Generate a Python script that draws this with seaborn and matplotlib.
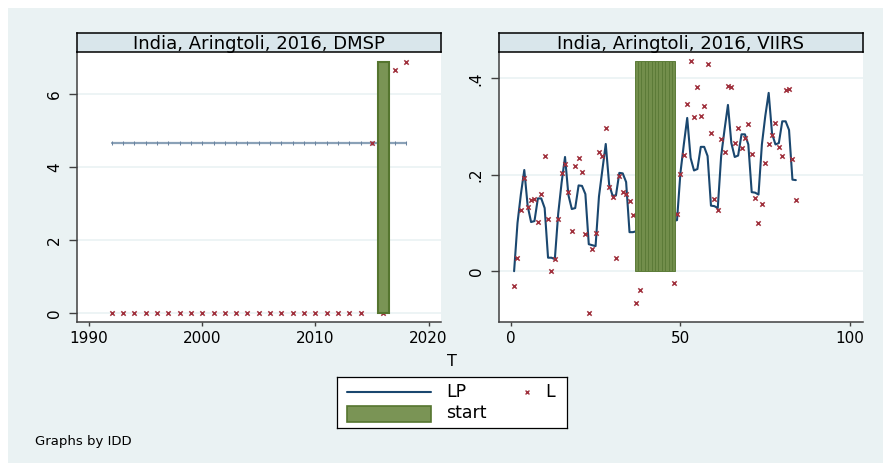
import matplotlib
matplotlib.use("Agg")
import matplotlib.pyplot as plt
import numpy as np
import seaborn as sns
from matplotlib.patches import Rectangle

nan = np.nan

# DMSP panel (annual)
dmsp_year = list(range(1992, 2019))
dmsp_L = [0.0] * 23 + [4.66, 0.0, 6.67, 6.88]
dmsp_LP = [4.66] * 27
dmsp_start_year = [2016]
dmsp_start_height = [6.88]

# VIIRS panel (monthly index T)
viirs_t = list(range(1, 85))
viirs_L = [
    -0.030, 0.027, 0.127, 0.194, 0.133, 0.148, 0.149, 0.102, 0.160, 0.239,
    0.108, 0.001, 0.025, 0.109, 0.203, 0.222, 0.164, 0.084, 0.219, 0.235,
    0.206, 0.077, -0.087, 0.046, 0.079, 0.247, 0.238, 0.297, 0.175, 0.153,
    0.028, 0.197, 0.165, 0.160, 0.145, 0.117, -0.065, -0.038, nan, nan,
    nan, nan, nan, nan, nan, nan, nan, -0.025, 0.118, 0.202,
    0.241, 0.347, 0.437, 0.320, 0.382, 0.323, 0.342, 0.430, 0.287, 0.150,
    0.127, 0.275, 0.248, 0.384, 0.382, 0.266, 0.298, 0.255, 0.277, 0.305,
    0.244, 0.152, 0.099, 0.140, 0.225, 0.263, 0.282, 0.307, 0.258, 0.239,
    0.376, 0.379, 0.233, 0.148,
]
viirs_LP = [
    0.000, 0.100, 0.160, 0.210, 0.135, 0.102, 0.104, 0.151, 0.151, 0.131,
    0.028, 0.028, 0.025, 0.120, 0.184, 0.237, 0.158, 0.129, 0.131, 0.178,
    0.177, 0.160, 0.056, 0.054, 0.052, 0.155, 0.210, 0.264, 0.180, 0.157,
    0.157, 0.204, 0.203, 0.185, 0.081, 0.081, nan, nan, nan, nan,
    nan, nan, nan, nan, nan, nan, nan, nan, 0.106, 0.204,
    0.263, 0.318, 0.235, 0.209, 0.212, 0.258, 0.258, 0.239, 0.136, 0.135,
    0.131, 0.239, 0.294, 0.345, 0.266, 0.237, 0.240, 0.284, 0.284, 0.263,
    0.164, 0.163, 0.159, 0.263, 0.322, 0.370, 0.285, 0.263, 0.266, 0.311,
    0.311, 0.293, 0.190, 0.189,
]
viirs_start_t = list(range(37, 49))
viirs_start_height = [0.436] * 12

dmsp_xticks = [1990, 2000, 2010, 2020]
dmsp_yticks = [0, 2, 4, 6]
dmsp_ylabels = ["0", "2", "4", "6"]
viirs_xticks = [0, 50, 100]
viirs_yticks = [0, 0.2, 0.4]
viirs_ylabels = ["0", ".2", ".4"]

BG = "#EAF2F3"
STRIP = "#D9E6EB"
NAVY = "#1A476F"
MAROON = "#A0313D"
GREEN = "#7A9455"
GREEN_EDGE = "#55752F"
AXIS = "#404040"

sns.set_style("white")
plt.rcParams["font.family"] = ["DejaVu Sans"]
plt.rcParams["text.color"] = "black"
plt.rcParams["xtick.labelcolor"] = "black"
plt.rcParams["ytick.labelcolor"] = "black"

W, H = 883, 463
fig = plt.figure(figsize=(W / 100, H / 100), dpi=100)
fig.patch.set_facecolor("white")
fig.patches.append(Rectangle((8 / W, 0), 1, 1 - 8 / H, transform=fig.transFigure,
                             facecolor=BG, edgecolor="none", zorder=-10))


def px_rect(x0, y0, x1, y1):
    return [x0 / W, 1 - y1 / H, (x1 - x0) / W, (y1 - y0) / H]


def style_axes(ax, xticks, yticks, ylabels, xlim, ylim):
    ax.set_facecolor("white")
    ax.set_xlim(*xlim)
    ax.set_ylim(*ylim)
    ax.set_xticks(xticks)
    ax.set_yticks(yticks)
    ax.set_yticklabels(ylabels)
    ax.grid(axis="y", color=BG, linewidth=1.2, zorder=0)
    ax.set_axisbelow(True)
    for side in ["top", "right"]:
        ax.spines[side].set_visible(False)
    for side in ["left", "bottom"]:
        ax.spines[side].set_color(AXIS)
        ax.spines[side].set_linewidth(1.1)
    ax.tick_params(axis="x", length=3, width=1, color=AXIS, pad=3.5, labelsize=11,
                   labelcolor="black", bottom=True, direction="out")
    ax.tick_params(axis="y", length=6, width=1, color=AXIS, pad=5, labelsize=11,
                   labelcolor="black", left=True, direction="out", labelrotation=90)
    for lab in ax.get_yticklabels():
        lab.set_va("center")
    ax.set_xlabel("")
    ax.set_ylabel("")


def strip(x0, x1, title):
    sax = fig.add_axes(px_rect(x0, 33.3, x1, 52.3))
    sax.set_facecolor(STRIP)
    sax.set_xticks([])
    sax.set_yticks([])
    for sp in sax.spines.values():
        sp.set_color("black")
        sp.set_linewidth(1.1)
    sax.text(0.5, 0.45, title, ha="center", va="center", fontsize=13,
             color="black", transform=sax.transAxes)


# left panel: DMSP
ax1 = fig.add_axes(px_rect(77.3, 52.4, 440.5, 321.8))
sns.lineplot(x=dmsp_year, y=dmsp_LP, ax=ax1, color="#8AA1B7", linewidth=1.6,
             marker="|", markersize=3, markeredgecolor="#6A84A0", zorder=2)
sns.scatterplot(x=dmsp_year, y=dmsp_L, ax=ax1, marker="x", color=MAROON,
                s=10, linewidth=1.1, zorder=3)
ax1.bar(dmsp_start_year, dmsp_start_height, width=1.0, color=GREEN,
        edgecolor=GREEN_EDGE, linewidth=1.5, zorder=4)
style_axes(ax1, dmsp_xticks, dmsp_yticks, dmsp_ylabels,
           (1988.96, 2021.06), (-0.23, 7.14))
strip(77.3, 440.5, "India, Aringtoli, 2016, DMSP")

# right panel: VIIRS
ax2 = fig.add_axes(px_rect(499, 52.4, 862.7, 321.8))
sns.lineplot(x=viirs_t, y=viirs_LP, ax=ax2, color=NAVY, linewidth=1.5, zorder=2)
sns.scatterplot(x=viirs_t, y=viirs_L, ax=ax2, marker="x", color=MAROON,
                s=10, linewidth=1.1, zorder=3)
ax2.bar(viirs_start_t, viirs_start_height, width=1.0, color="#728E4B",
        edgecolor="#5C7B38", linewidth=0.7, zorder=4)
style_axes(ax2, viirs_xticks, viirs_yticks, viirs_ylabels,
           (-3.45, 103.7), (-0.105, 0.454))
strip(499, 862.7, "India, Aringtoli, 2016, VIIRS")

fig.text(452 / W, 1 - 362 / H, "T", ha="center", va="center", fontsize=11.5)

# legend box
lax = fig.add_axes(px_rect(337.3, 377.3, 567.3, 428.3))
lax.set_xlim(0, 230)
lax.set_ylim(51, 0)
lax.set_xticks([])
lax.set_yticks([])
lax.set_facecolor("white")
for sp in lax.spines.values():
    sp.set_color("black")
    sp.set_linewidth(0.9)
lax.plot([9.4, 93.4], [14.4, 14.4], color=NAVY, linewidth=1.5)
lax.text(108.7, 14.6, "LP", ha="left", va="center", fontsize=12.5)
lax.scatter([189.4], [14.6], marker="x", color=MAROON, s=8, linewidth=1.0)
lax.text(207.5, 14.6, "L", ha="left", va="center", fontsize=12.5)
lax.add_patch(Rectangle((9.4, 28.7), 84, 15.7, facecolor=GREEN,
                        edgecolor=GREEN_EDGE, linewidth=1.2))
lax.text(108.7, 36.0, "start", ha="left", va="center", fontsize=12.5)

fig.text(35 / W, 1 - 441 / H, "Graphs by IDD", ha="left", va="center", fontsize=9.5)

fig.savefig("out.png", dpi=100, facecolor=fig.get_facecolor())
